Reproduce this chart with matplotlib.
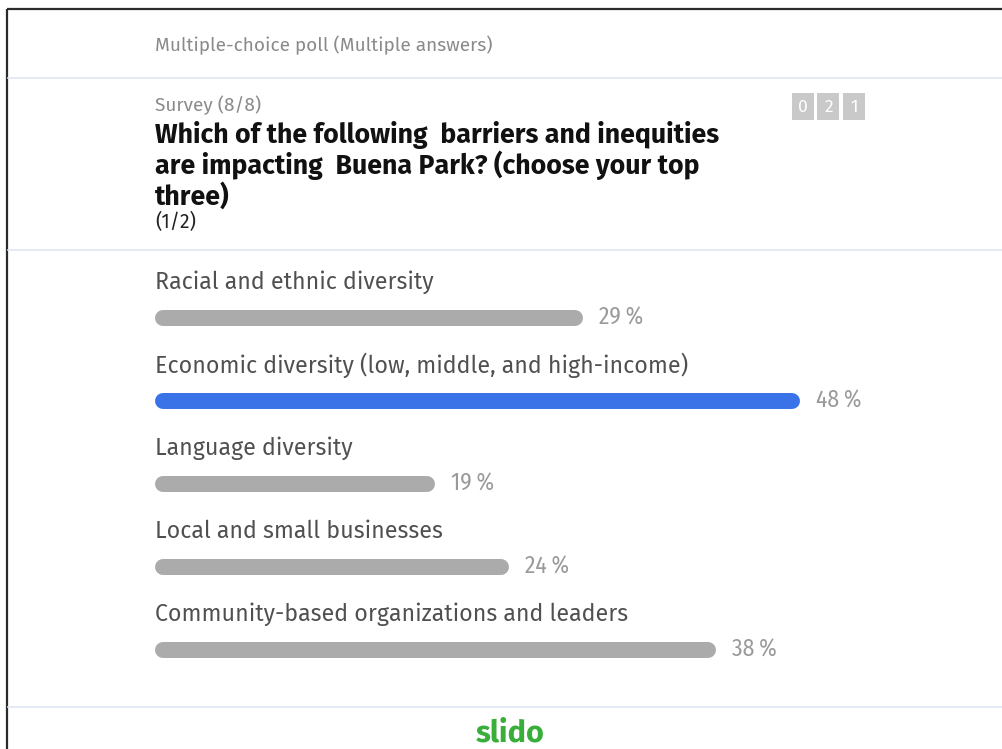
import matplotlib
matplotlib.use("Agg")
import matplotlib.pyplot as plt
from matplotlib.patches import Rectangle

# poll results
options = [
    "Racial and ethnic diversity",
    "Economic diversity (low, middle, and high-income)",
    "Language diversity",
    "Local and small businesses",
    "Community-based organizations and leaders",
]
percents = [29, 48, 19, 24, 38]
top_option = 1  # highlighted answer
counter_digits = ["0", "2", "1"]

W, H = 1003, 749
FONT = ["Fira Sans", "DejaVu Sans"]
NARROW = ["Fira Sans Condensed", "DejaVu Sans"]
GREY_BAR = "#ababab"
BLUE_BAR = "#3a72e8"

fig = plt.figure(figsize=(W / 100, H / 100), dpi=100)
fig.patch.set_facecolor("white")

# full-size overlay in pixel units for the card frame and header text
bg = fig.add_axes([0, 0, 1, 1])
bg.set_xlim(0, W)
bg.set_ylim(H, 0)
bg.axis("off")

bg.plot([7, 7], [9, H], color="#2b2b2b", lw=1.6, solid_capstyle="butt")
bg.plot([7, W], [9, 9], color="#2b2b2b", lw=1.6, solid_capstyle="butt")
for y in (78, 250, 707):
    bg.plot([8, W], [y, y], color="#dfe7f3", lw=1.2)

bg.text(155, 45, "Multiple-choice poll (Multiple answers)", family=FONT,
        fontsize=13.7, color="#8a8a8a", va="center", ha="left")
bg.text(155, 105, "Survey (8/8)", family=FONT, fontsize=13.7,
        color="#8a8a8a", va="center", ha="left")
title_lines = ["Which of the following  barriers and inequities",
               "are impacting  Buena Park? (choose your top",
               "three)"]
for k, line in enumerate(title_lines):
    bg.text(155, 135 + 30.5 * k, line, family=FONT, fontsize=19.2,
            fontweight="bold", color="#111111", va="center", ha="left")
bg.text(155, 222, "(1/2)", family=FONT, fontsize=14, color="#222222",
        va="center", ha="left")

# response counter boxes
for k, d in enumerate(counter_digits):
    x0 = 792 + 25.5 * k
    bg.add_patch(Rectangle((x0, 93), 22, 27, facecolor="#c9c9c9",
                           edgecolor="none"))
    bg.text(x0 + 11, 107, d, family=FONT, fontsize=12.5, color="white",
            ha="center", va="center")

bg.text(510, 733, "slido", family=FONT, fontsize=22,
        fontweight="bold", color="#3aae3a", ha="center", va="center")

# bars: 1 % = 14.75 px, the track ends at 800 px
px_per_pct = 14.75
ax_left, ax_top, ax_bottom = 155, 276.5, 691.5
ax_w = 50 * px_per_pct
ax = fig.add_axes([ax_left / W, (H - ax_bottom) / H, ax_w / W,
                   (ax_bottom - ax_top) / H])
ax.set_xlim(0, 50)
ax.set_ylim(len(options) - 0.5, -0.5)
ax.axis("off")

track_max = (800 - ax_left) / px_per_pct
bar_px = 16
r = (bar_px / 2) / px_per_pct

for i, (name, p) in enumerate(zip(options, percents)):
    w = min(p, track_max)
    color = BLUE_BAR if i == top_option else GREY_BAR
    ax.plot([r, w - r], [i, i], color=color, lw=bar_px * 0.72,
            solid_capstyle="round", clip_on=False)
    ax.annotate(name, xy=(0, i), xytext=(0, 36), textcoords="offset pixels",
                family=FONT, fontsize=16.7, color="#505050",
                ha="left", va="center", annotation_clip=False)
    ax.annotate(f"{p}\u2009%", xy=(w, i), xytext=(16, 0),
                textcoords="offset pixels", family=NARROW, fontsize=17,
                color="#9a9a9a", ha="left", va="center",
                annotation_clip=False)

fig.savefig("out.png", dpi=100)
